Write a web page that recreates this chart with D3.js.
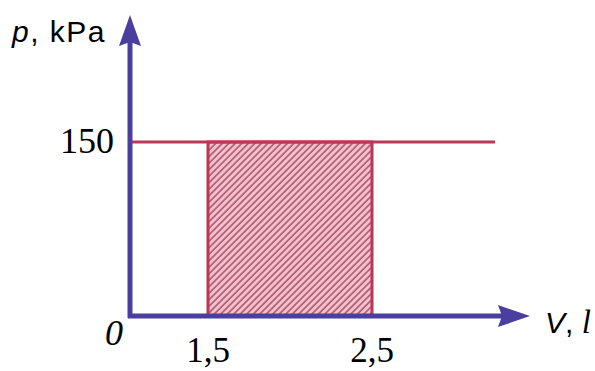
<!DOCTYPE html>
<html>
<head>
<meta charset="utf-8">
<script src="https://cdn.jsdelivr.net/npm/d3@7"></script>
<style>
  body { margin: 0; background: #fff; }
  svg { display: block; }
</style>
</head>
<body>
<div id="chart"></div>
<script>
// values
const vBreaks = [0, 1.5, 2.5];          // the drawing is not to scale, so x is piecewise
const vTicks = ['1,5', '2,5'];
const vTickValues = [1.5, 2.5];
const pTicks = [150];
const pTickLabels = ['150'];
const isobarP = [150];
const isobarV = [0, 3.25];
const workV = [1.5, 2.5];

const width = 595, height = 371;
const axisColor = '#4a3e9e';
const lineColor = '#bd3658';

const svg = d3.select('#chart')
  .append('svg')
  .attr('width', width)
  .attr('height', height);

const x = d3.scaleLinear().domain(vBreaks).range([130, 208, 372]);
const y = d3.scaleLinear().domain([0, 150]).range([316, 142]);

// hatch for the area under the process
const defs = svg.append('defs');
const pat = defs.append('pattern')
  .attr('id', 'hatch')
  .attr('patternUnits', 'userSpaceOnUse')
  .attr('width', 4.6)
  .attr('height', 4.6)
  .attr('patternTransform', 'rotate(45)');
pat.append('rect').attr('width', 4.6).attr('height', 4.6).attr('fill', '#f2c3ce');
pat.append('line')
  .attr('x1', 1).attr('y1', 0).attr('x2', 1).attr('y2', 4.6)
  .attr('stroke', '#b0546b').attr('stroke-width', 1.6);

svg.append('rect')
  .attr('x', x(workV[0]))
  .attr('y', y(isobarP[0]))
  .attr('width', x(workV[1]) - x(workV[0]))
  .attr('height', y(0) - y(isobarP[0]))
  .attr('fill', 'url(#hatch)')
  .attr('stroke', lineColor)
  .attr('stroke-width', 3);

// isobar p = 150 kPa
svg.append('line')
  .attr('x1', x(isobarV[0]))
  .attr('x2', x(isobarV[1]))
  .attr('y1', y(isobarP[0]))
  .attr('y2', y(isobarP[0]))
  .attr('stroke', lineColor)
  .attr('stroke-width', 3);

// axes with arrows
const x0 = x(0), y0 = y(0);
const xEnd = 530, yTop = 15;
svg.append('line')
  .attr('x1', x0).attr('y1', y0 + 2).attr('x2', x0).attr('y2', yTop + 25)
  .attr('stroke', axisColor).attr('stroke-width', 5);
svg.append('line')
  .attr('x1', x0 - 2).attr('y1', y0).attr('x2', xEnd - 25).attr('y2', y0)
  .attr('stroke', axisColor).attr('stroke-width', 5);
svg.append('path')
  .attr('d', `M${x0},${yTop}L${x0 + 11},${yTop + 31}L${x0},${yTop + 27}L${x0 - 11},${yTop + 31}Z`)
  .attr('fill', axisColor);
svg.append('path')
  .attr('d', `M${xEnd},${y0}L${xEnd - 32},${y0 - 11}L${xEnd - 28},${y0}L${xEnd - 32},${y0 + 11}Z`)
  .attr('fill', axisColor);

// tick labels
const serif = '"Liberation Serif", "Times New Roman", serif';
const sans = '"Liberation Sans", Arial, sans-serif';

svg.selectAll('.vtick')
  .data(vTickValues)
  .join('text')
  .attr('class', 'vtick')
  .attr('x', d => x(d))
  .attr('y', 362)
  .attr('text-anchor', 'middle')
  .style('font-family', serif)
  .style('font-size', '35px')
  .text((d, i) => vTicks[i]);

svg.selectAll('.ptick')
  .data(pTicks)
  .join('text')
  .attr('class', 'ptick')
  .attr('x', 114)
  .attr('y', d => y(d) + 11)
  .attr('text-anchor', 'end')
  .style('font-family', serif)
  .style('font-size', '36px')
  .text((d, i) => pTickLabels[i]);

svg.append('text')
  .attr('x', 123)
  .attr('y', 345)
  .attr('text-anchor', 'end')
  .style('font-family', serif)
  .style('font-style', 'italic')
  .style('font-size', '36px')
  .text('0');

// axis titles
const yTitle = svg.append('text')
  .attr('x', 12)
  .attr('y', 42)
  .style('font-family', sans)
  .style('font-size', '30px')
  .style('letter-spacing', '1.5px');
yTitle.append('tspan').style('font-style', 'italic').text('p');
yTitle.append('tspan').text(', kPa');

const xTitle = svg.append('text')
  .attr('x', 545)
  .attr('y', 333)
  .style('font-family', sans)
  .style('font-size', '30px');
xTitle.append('tspan').style('font-style', 'italic').text('V');
xTitle.append('tspan').text(', ');
xTitle.append('tspan')
  .style('font-family', serif)
  .style('font-style', 'italic')
  .style('font-size', '33px')
  .text('l');
</script>
</body>
</html>
